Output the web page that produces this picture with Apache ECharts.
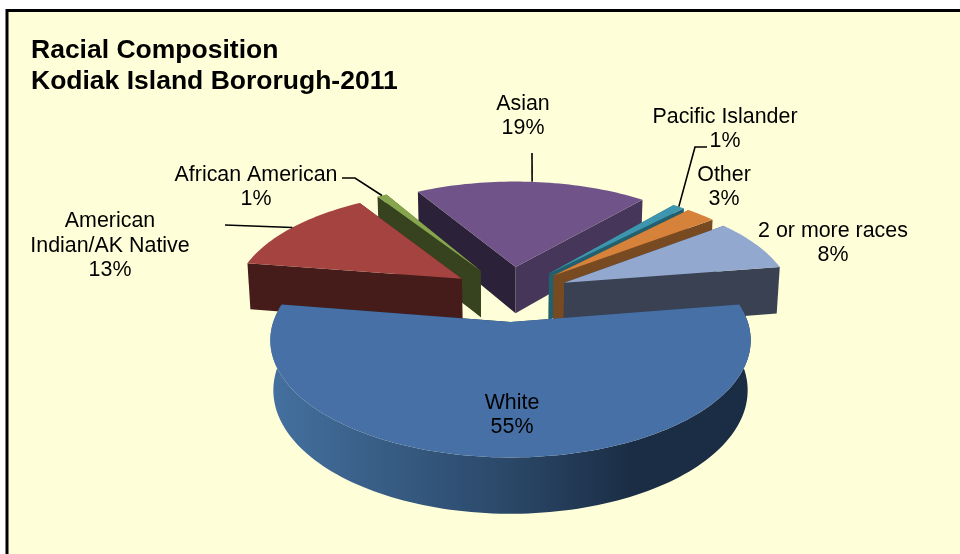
<!DOCTYPE html>
<html>
<head>
<meta charset="utf-8">
<style>
  html, body { margin: 0; padding: 0; background: #fff; }
  #main { width: 960px; height: 554px; }
</style>
<script src="https://cdn.jsdelivr.net/npm/echarts@6/dist/echarts.min.js"></script>
</head>
<body>
<div id="main"></div>
<script>
// data, in the order the slices go round the pie (clockwise)
var categories = ['White', 'American Indian/AK Native', 'African American', 'Asian', 'Pacific Islander', 'Other', '2 or more races'];
var values = [55, 13.4, 0.8, 19.45, 1, 2.5, 7.85];
var titleLines = ['Racial Composition', 'Kodiak Island Bororugh-2011'];

// colours per slice: top, left wall, right wall
var topColors = ['#4670A6', '#A54341', '#87A54C', '#705389', '#3E96AE', '#D6823A', '#92A8CF'];
var wallLeft = ['#2A4767', '#451C1A', '#37421E', '#2B2138', '#23606F', '#784A22', '#3A4152'];
var wallRight = ['#1B2D45', '#451C1A', '#37421E', '#463659', '#23606F', '#784A22', '#3A4152'];

// label text and where it sits
var labelLines = [['White'], ['American', 'Indian/AK Native'], ['African American'], ['Asian'], ['Pacific Islander'], ['Other'], ['2 or more races']];
var labelPos = [[512, 415], [110, 246], [256, 187], [523, 116], [725, 129], [724, 187], [833, 243]];
// leader line start points (the end is worked out from the slice)
var leaderStart = [null, [[225, 225]], [[342, 178], [355, 178]], [[532, 153]], [[707, 147], [695, 147]], null, null];

// back to front
var drawOrder = [3, 2, 1, 4, 5, 6, 0];

// projection of the tilted pie
var x0 = 510.5, y0 = 293.4, R = 228, K = 105.6, p = 0.15, explode = 0.26, D = 48.3, r = 0.012;
var startAngle = -9;

function project(u, v, bottom) {
  var w = 1 - p * v + (bottom ? r : 0);
  return [x0 + R * u / w, y0 + (K * v + (bottom ? D : 0)) / w];
}

var total = values.reduce(function (a, b) { return a + b; }, 0);
var slices = [];
var acc = startAngle;
values.forEach(function (val) {
  var span = val / total * 360;
  slices.push({ from: acc, to: acc + span, mid: acc + span / 2 });
  acc += span;
});

function rad(d) { return d * Math.PI / 180; }

function buildSlice(i) {
  var s = slices[i];
  var du = explode * Math.cos(rad(s.mid));
  var dv = explode * Math.sin(rad(s.mid));
  var arcTop = [], arcBot = [];
  var n = Math.max(2, Math.ceil((s.to - s.from) / 1.5));
  for (var k = 0; k <= n; k++) {
    var a = rad(s.from + (s.to - s.from) * k / n);
    arcTop.push(project(du + Math.cos(a), dv + Math.sin(a), false));
    arcBot.push(project(du + Math.cos(a), dv + Math.sin(a), true));
  }
  var apexTop = project(du, dv, false);
  var apexBot = project(du, dv, true);
  var children = [];

  function poly(points, fill) {
    children.push({ type: 'polygon', shape: { points: points }, style: { fill: fill } });
  }

  // outer wall, only the White slice shows it
  if (i === 0) {
    poly(arcTop.concat(arcBot.slice().reverse()), new echarts.graphic.LinearGradient(273, 0, 752, 0, [
      { offset: 0, color: '#44709F' },
      { offset: 0.5, color: '#2A4767' },
      { offset: 0.75, color: '#1B2D45' },
      { offset: 1, color: '#1B2D45' }
    ], true));
  }
  // radial walls
  poly([apexTop, arcTop[0], arcBot[0], apexBot], wallLeft[i]);
  poly([apexTop, arcTop[n], arcBot[n], apexBot], wallRight[i]);
  // top face
  poly([apexTop].concat(arcTop), topColors[i]);

  // leader line
  if (leaderStart[i]) {
    var m = rad(s.mid);
    children.push({
      type: 'polyline',
      shape: { points: leaderStart[i].concat([project(du + Math.cos(m), dv + Math.sin(m), false)]) },
      style: { stroke: '#000', lineWidth: 1.6, fill: null }
    });
  }
  // label
  children.push({
    type: 'text',
    style: {
      text: labelLines[i].concat([Math.round(values[i]) + '%']).join('\n'),
      x: labelPos[i][0],
      y: labelPos[i][1],
      align: 'center',
      verticalAlign: 'middle',
      fill: '#000',
      font: '21.4px "Liberation Sans", Arial, sans-serif',
      lineHeight: 24.5
    }
  });
  return { type: 'group', children: children };
}

var myChart = echarts.init(document.getElementById('main'));

var option = {
  backgroundColor: '#fff',
  animation: false,
  graphic: [{
    type: 'rect',
    z: -10,
    shape: { x: 7, y: 10.5, width: 1000, height: 600 },
    style: { fill: '#FEFFD9', stroke: '#000', lineWidth: 3 }
  }],
  title: {
    text: titleLines.join('\n'),
    left: 31,
    top: 35.5,
    padding: 0,
    textStyle: {
      fontFamily: '"Liberation Sans", Arial, sans-serif',
      fontSize: 26.5,
      fontWeight: 'bold',
      color: '#000',
      lineHeight: 31
    }
  },
  series: [{
    type: 'custom',
    coordinateSystem: 'none',
    silent: true,
    data: drawOrder,
    renderItem: function (params, api) {
      return buildSlice(drawOrder[params.dataIndex]);
    }
  }]
};

myChart.setOption(option);
</script>
</body>
</html>
